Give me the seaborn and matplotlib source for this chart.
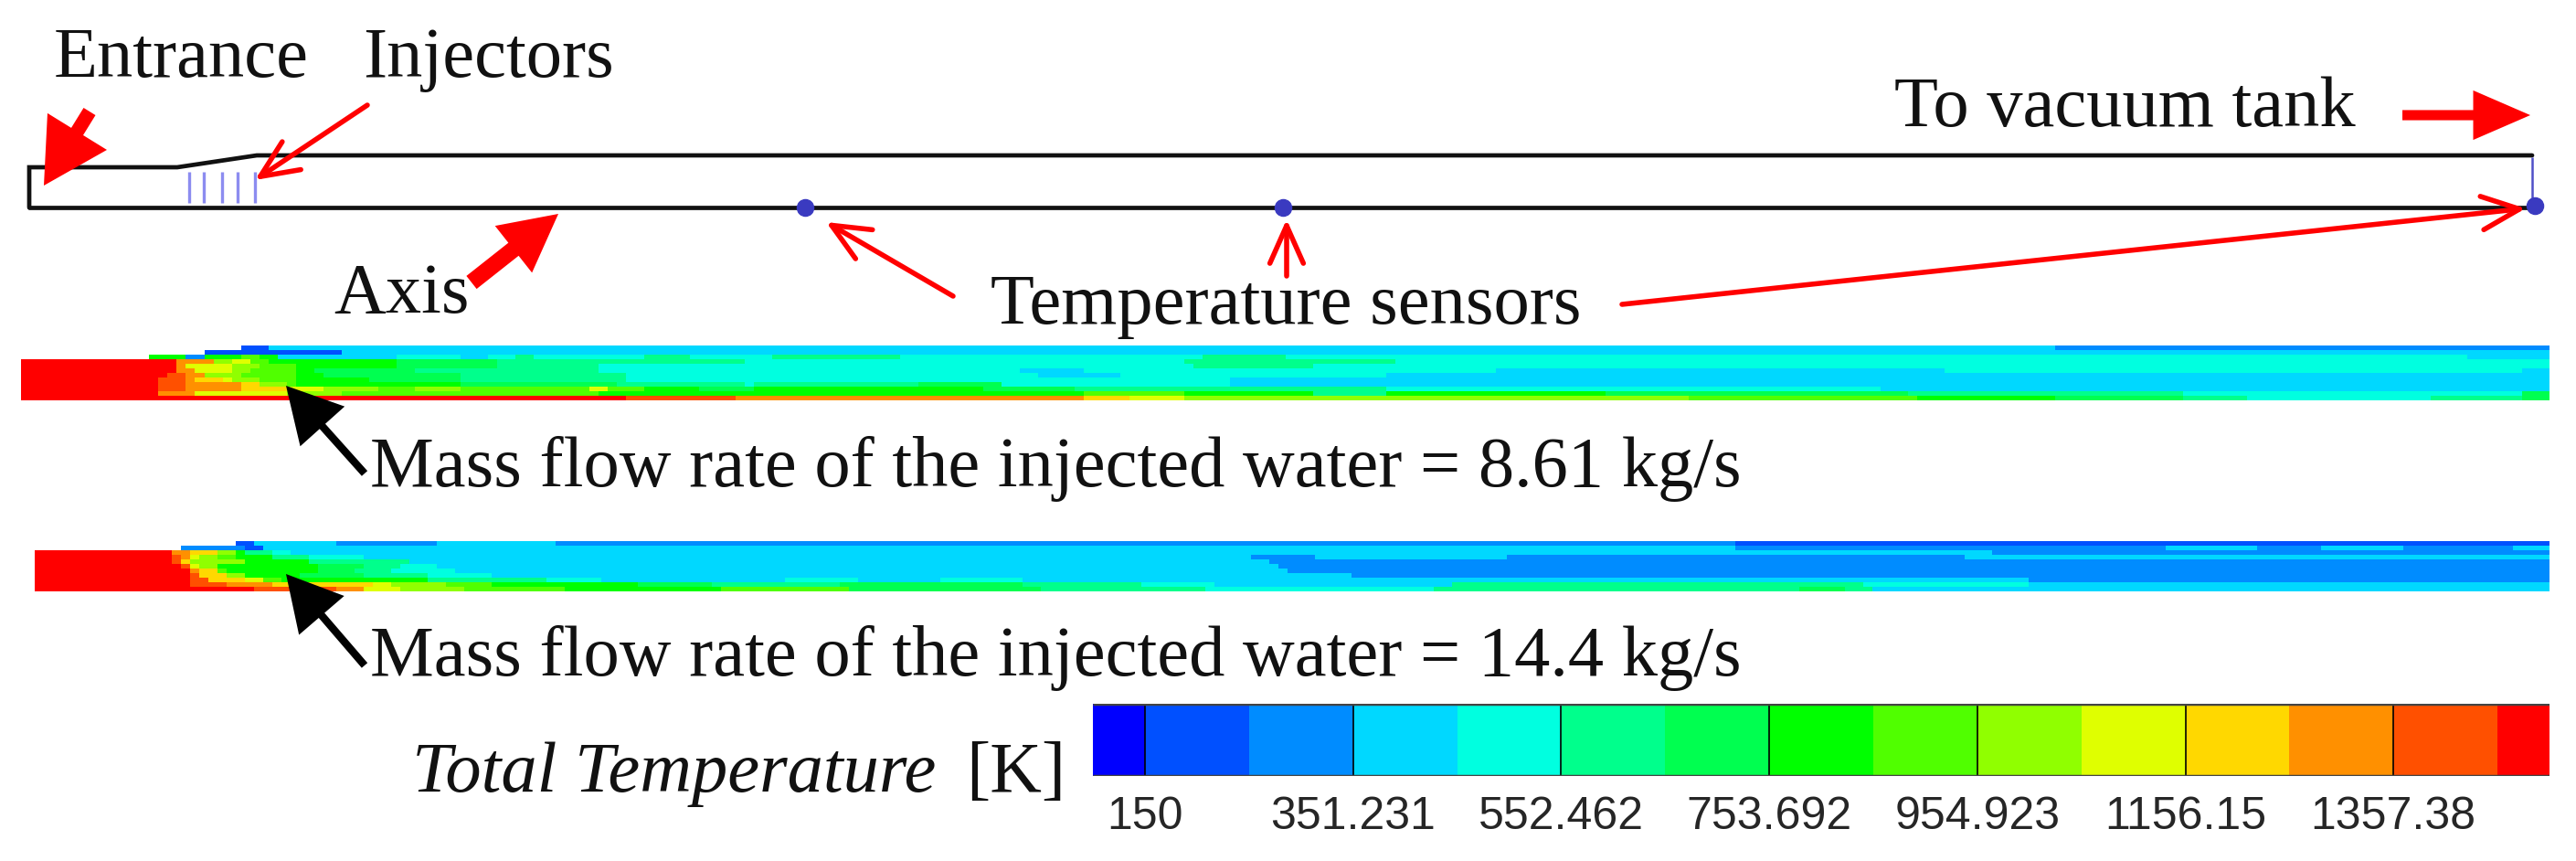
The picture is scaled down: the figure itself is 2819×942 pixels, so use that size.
import numpy as np
import matplotlib
matplotlib.use("Agg")
import matplotlib.pyplot as plt
import seaborn as sns
from matplotlib.colors import ListedColormap

# contour levels of the colour bar
level_colors = ["#0000ff", "#0050ff", "#008cff", "#00d8ff", "#00ffe0", "#00ff8c", "#00ff50", "#00ff00",
                "#50ff00", "#90ff00", "#dfff00", "#ffd800", "#ff9000", "#ff5000", "#ff0000"]
bar_levels = [0, 1, 1, 2, 2, 3, 3, 4, 4, 5, 5, 6, 6, 7, 7, 8, 8, 9, 9, 10, 10, 11, 11, 12, 12, 13, 13, 14]
bar_ticks = [1, 5, 9, 13, 17, 21, 25]
bar_labels = ["150", "351.231", "552.462", "753.692", "954.923", "1156.15", "1357.38"]

# each row: level:end along the duct, -1 is outside the duct
field_low = [
    "-1:258 1:293 3:2247 2:2790",
    "-1:227 1:375 3:2790",
    "-1:167 7:200 2:227 7:265 8:285 7:300 3:430 4:500 3:533 4:567 5:587 4:703 5:757 4:843 5:983 4:1314 5:1400 4:2695 3:2790",
    "14:193 12:230 9:250 10:275 8:290 7:430 6:540 5:770 5:810 4:1290 5:1525 4:2790",
    "14:195 12:205 10:255 9:285 8:320 7:430 6:540 5:650 4:1303 5:1435 4:2790",
    "14:190 13:195 12:215 10:250 9:270 8:320 7:340 6:450 5:650 4:1115 3:1180 4:1629 3:2127 4:2750 3:2790",
    "14:185 13:200 12:220 9:260 8:320 7:350 6:500 5:680 4:1130 3:1225 4:1510 3:2790",
    "14:170 13:205 12:215 11:240 10:250 9:285 8:320 7:400 6:500 5:680 4:1346 3:2790",
    "14:170 13:205 12:260 11:280 9:310 8:320 7:500 6:670 5:810 4:825 5:1000 6:1090 4:1346 3:2790",
    "14:175 13:205 12:260 11:310 10:350 9:413 8:450 9:500 8:640 10:660 8:700 7:760 6:820 7:1075 6:1170 5:1510 4:2050 3:2790",
    "14:175 12:215 10:310 9:370 8:650 7:1185 8:1290 7:1435 5:1515 7:1750 6:2080 5:2380 4:2750 6:2790",
    "14:688 13:800 12:1185 11:1230 10:1290 9:1840 8:2090 7:2240 6:2380 5:2450 4:2655 5:2750 6:2790",
]
field_high = [
    "-1:260 1:283 3:367 2:475 3:607 2:1895 1:2790",
    "-1:200 2:265 1:285 3:1895 2:2370 3:2470 2:2540 3:2630 2:2745 3:2790",
    "14:185 12:205 11:235 9:255 7:270 5:295 4:320 3:2178 2:2790",
    "14:185 13:195 12:205 10:215 9:235 8:260 7:300 5:340 4:400 3:1364 2:1435 3:1650 2:2150 3:2790",
    "14:190 13:200 11:208 9:270 7:340 5:450 3:1385 2:2790",
    "14:195 13:205 10:215 9:240 7:345 6:400 5:440 4:480 3:1395 2:2790",
    "14:205 12:215 11:235 8:250 7:345 6:390 5:430 4:500 3:1410 2:2790",
    "14:205 13:222 11:245 9:265 7:330 6:400 5:470 4:540 3:1480 2:2790",
    "14:205 13:225 11:265 10:285 8:310 7:470 5:600 4:660 3:862 4:933 3:1025 4:1123 3:2215 2:2790",
    "14:205 13:250 12:300 11:410 10:430 9:490 8:540 7:700 6:780 5:920 6:1120 5:1250 4:1330 3:1590 5:2040 4:2215 3:2790",
    "14:277 13:370 12:400 10:440 9:510 8:620 7:784 8:925 6:1140 5:1315 4:1570 5:1970 6:2015 5:2050 3:2790",
]

title_low = "Mass flow rate of the injected water = 8.61 kg/s"
title_high = "Mass flow rate of the injected water = 14.4 kg/s"
sensors_x = [881, 1404, 2774]
sensors_y = [227, 227, 225]
injectors_x = [207, 223, 243, 260, 279]
duct_x = [32, 32, 194, 281, 2771]
duct_top = [227, 183, 183, 170, 170]

W, H = 2819, 942


def expand(rows, x0, n_cols):
    grid = np.full((len(rows), n_cols), -1)
    for i, row in enumerate(rows):
        start = 0
        for token in row.split():
            level, end = token.split(":")
            stop = int(round((int(end) - x0) / 10))
            grid[i, start:stop] = int(level)
            start = max(start, stop)
    return grid


def pixel_axes(fig, left, top, right, bottom, **kw):
    return fig.add_axes([left / W, 1 - bottom / H, (right - left) / W, (bottom - top) / H], **kw)


def draw_field(fig, rows, left, top, bottom):
    ax = pixel_axes(fig, left, top, 2790, bottom)
    grid = expand(rows, left, int((2790 - left) / 10))
    sns.heatmap(grid, mask=grid < 0, cmap=ListedColormap(level_colors), vmin=-0.5, vmax=14.5, cbar=False,
                xticklabels=False, yticklabels=False, ax=ax)
    ax.set_facecolor("white")
    return ax


sns.set_style("white")
plt.rcParams["font.family"] = ["Liberation Serif", "DejaVu Serif"]

fig = plt.figure(figsize=(W / 100, H / 100), dpi=100, facecolor="white")

draw_field(fig, field_low, 23, 378, 438)
draw_field(fig, field_high, 38, 592, 647)

# colour bar
ax_bar = pixel_axes(fig, 1196, 770, 2790, 849)
sns.heatmap(np.array([bar_levels]), cmap=ListedColormap(level_colors), vmin=-0.5, vmax=14.5, cbar=False,
            xticklabels=False, yticklabels=False, ax=ax_bar)
ax_bar.set_xticks(bar_ticks)
ax_bar.set_xticklabels(bar_labels, family="Liberation Sans", fontsize=36, rotation=0)
ax_bar.set_yticks([])
ax_bar.tick_params(axis="x", length=0, pad=16)
ax_bar.vlines(bar_ticks, 0, 1, color="black", lw=1.2)
ax_bar.hlines([0, 1], 0, len(bar_levels), color="#444444", lw=2.5)

# geometry sketch and labels on a pixel overlay
ax = fig.add_axes([0, 0, 1, 1], zorder=5)
ax.set_xlim(0, W)
ax.set_ylim(H, 0)
ax.axis("off")

ax.plot([duct_x[0], duct_x[-1]], [227, 227], color="#111111", lw=3.4)
ax.plot(duct_x, duct_top, color="#111111", lw=3.4, solid_joinstyle="miter")
ax.vlines(injectors_x, 188, 222, color="#8c8cf0", lw=2.4)
ax.vlines(2771, 172, 225, color="#5050c8", lw=1.8)
ax.scatter(sensors_x, sensors_y, s=170, color="#3a3ac0", zorder=3)


def thin_arrow(tail, tip):
    ax.annotate("", xy=tip, xytext=tail, zorder=4,
                arrowprops=dict(arrowstyle="->,head_length=0.9,head_width=0.4", color="red", lw=4,
                                shrinkA=0, shrinkB=0, mutation_scale=33))


def thick_arrow(tail, tip, head_length, head_width, tail_width, color="red"):
    style = f"simple,head_length={head_length},head_width={head_width},tail_width={tail_width}"
    ax.annotate("", xy=tip, xytext=tail, zorder=4,
                arrowprops=dict(arrowstyle=style, color=color, lw=0, shrinkA=0, shrinkB=0,
                                mutation_scale=1))


thick_arrow((98, 122), (48, 203), 50, 55, 11)
thick_arrow((516, 309), (611, 234), 45, 47, 13)
thick_arrow((2629, 126), (2769, 126), 45, 39, 8)
thin_arrow((402, 115), (279, 197))
thin_arrow((1043, 324), (904, 243))
thin_arrow((1408, 302), (1408, 240))
thin_arrow((1775, 333), (2764, 228))
thick_arrow((399, 518), (313, 422), 43, 47, 6, color="black")
thick_arrow((399, 728), (313, 628), 43, 47, 6, color="black")

font_px = 56.5
for label, x, y in [("Entrance", 59, 84), ("Injectors", 397, 84), ("To vacuum tank", 2073, 138),
                    ("Axis", 365, 342), ("Temperature sensors", 1084, 354), (title_low, 405, 532),
                    (title_high, 405, 739)]:
    ax.text(x, y, label, fontsize=font_px, color="#111111", va="baseline", ha="left")
ax.text(451, 866, "Total Temperature", fontsize=font_px, style="italic", color="#111111", va="baseline")
ax.text(1057, 866, "[K]", fontsize=font_px, color="#111111", va="baseline")

fig.savefig("out.png", dpi=100, facecolor="white")
